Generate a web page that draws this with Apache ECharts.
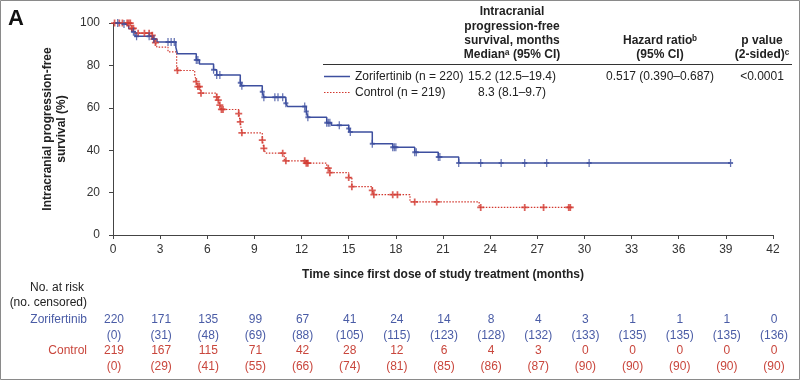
<!DOCTYPE html>
<html><head><meta charset="utf-8">
<script src="https://cdn.jsdelivr.net/npm/echarts@6/dist/echarts.min.js"></script>
<style>html,body{margin:0;padding:0;background:#fff}#c{width:800px;height:380px}</style>
</head><body><div id="c"></div>
<script>
// ---------- data ----------
const xTicks = [0,3,6,9,12,15,18,21,24,27,30,33,36,39,42];
const yTicks = [0,20,40,60,80,100];
// Kaplan-Meier steps: [time (months), survival % after the event]
const zoriSteps = [[0,100],[0.4,99.5],[0.8,98.6],[1.0,97.3],[1.2,95.9],[1.4,93.8],[2.5,92.4],[2.8,91.0],
  [4.0,88.5],[4.1,85.5],[5.3,82.6],[5.5,80.7],[6.4,78.0],[6.6,75.5],[8.1,71.8],[8.2,70.4],
  [9.5,67.6],[9.6,65.0],[11.0,62.2],[11.1,60.6],[12.3,58.2],[12.4,55.6],[13.6,52.9],[13.9,51.8],
  [15.0,50.2],[15.1,48.6],[16.5,43.1],[17.8,41.4],[19.2,39.0],[20.7,36.8],[22.0,34.0],[39.3,34.0]];
const ctrlSteps = [[0,100],[1.2,97.5],[1.4,95.2],[2.5,94.2],[2.6,92.4],[2.7,90.8],[2.8,88.6],[3.5,86.4],
  [4.05,77.6],[5.2,75.5],[5.3,72.4],[5.4,70.0],[5.55,66.9],[6.6,65.1],[6.7,63.6],[6.8,61.3],[6.9,59.2],
  [8.0,57.3],[8.1,53.4],[8.15,50.3],[8.2,48.2],[9.5,44.8],[9.6,40.9],[9.7,38.6],[10.9,35.0],[12.3,33.9],
  [13.6,31.5],[13.8,29.4],[15.0,27.1],[15.2,22.8],[16.5,21.0],[16.6,19.0],[18.9,15.6],[23.3,13.0],[29.1,13.0]];
const zoriCensorTimes = [0.3,0.7,1.3,1.5,2.3,2.6,3.5,3.7,3.9,5.3,5.4,6.4,6.6,6.8,8.1,8.2,9.5,9.6,10.3,10.5,
  10.8,11.0,12.2,12.3,12.4,13.6,13.7,13.8,14.4,15.0,15.1,16.5,17.8,17.9,18.0,19.2,19.3,20.7,20.8,22.0,23.4,24.7,26.2,27.6,30.3,39.3];
const ctrlCensorTimes = [0.1,0.4,0.6,0.9,1.0,1.1,1.2,1.3,1.6,2.0,2.3,2.5,2.6,2.7,4.1,5.3,5.4,5.5,5.6,6.6,6.7,6.8,6.9,7.0,
  8.0,8.1,8.2,9.5,9.6,10.8,11.0,12.2,12.3,12.4,13.7,13.8,15.0,15.2,16.5,16.6,17.8,18.1,19.2,20.6,23.4,26.2,27.4,29.0,29.1];
const riskTimes = [0,3,6,9,12,15,18,21,24,27,30,33,36,39,42];
const zoriAtRisk = [220,171,135,99,67,41,24,14,8,4,3,1,1,1,0];
const zoriCensored = [0,31,48,69,88,105,115,123,128,132,133,135,135,135,136];
const ctrlAtRisk = [219,167,115,71,42,28,12,6,4,3,0,0,0,0,0];
const ctrlCensored = [0,29,41,55,66,74,81,85,86,87,90,90,90,90,90];

// ---------- style ----------
const BLUE = '#3d4f9f', RED = '#d2382f';
const BLUE_T = '#4a5ca6', RED_T = '#c9463c';
const FONT = 'Liberation Sans, Arial, sans-serif';
const PLUS = 'path://M3,0H5V3H8V5H5V8H3V5H0V3H3Z';

function valAt(steps, t) {
  let v = steps[0][1];
  for (const [x, y] of steps) { if (x <= t) v = y; else break; }
  return v;
}
const zoriCensor = zoriCensorTimes.map(t => [t, valAt(zoriSteps, t)]);
const ctrlCensor = ctrlCensorTimes.map(t => [t, valAt(ctrlSteps, t)]);

const chart = echarts.init(document.getElementById('c'), null, {renderer: 'canvas'});
const option = {
  animation: false,
  backgroundColor: '#fff',
  textStyle: {fontFamily: FONT},
  grid: {left: 113, right: 27, top: 23, bottom: 145},
  xAxis: {
    type: 'value', min: 0, max: 42, interval: 3, offset: 2,
    axisLine: {lineStyle: {color: '#444', width: 1}},
    axisTick: {length: 4, lineStyle: {color: '#444'}},
    axisLabel: {color: '#333', fontSize: 12, margin: 7, fontFamily: FONT},
    splitLine: {show: false},
    name: 'Time since first dose of study treatment (months)',
    nameLocation: 'middle', nameGap: 32,
    nameTextStyle: {fontWeight: 'bold', fontSize: 12, color: '#222', fontFamily: FONT}
  },
  yAxis: {
    type: 'value', min: 0, max: 100, interval: 20, offset: 3,
    axisLine: {show: true, lineStyle: {color: '#444', width: 1}},
    axisTick: {show: true, length: 4, lineStyle: {color: '#444'}},
    axisLabel: {color: '#333', fontSize: 12, margin: 10, fontFamily: FONT},
    splitLine: {show: false},
    name: 'Intracranial progression-free\nsurvival (%)',
    nameLocation: 'middle', nameGap: 38, nameRotate: 90,
    nameTextStyle: {fontWeight: 'bold', fontSize: 12, color: '#222', lineHeight: 14, fontFamily: FONT}
  },
  series: [
    {name: 'Control', type: 'line', step: 'end', data: ctrlSteps, showSymbol: false, symbol: 'none',
     lineStyle: {color: RED, width: 1.2, type: [1.5, 1.5]}, z: 2},
    {name: 'Zorifertinib', type: 'line', step: 'end', data: zoriSteps, showSymbol: false, symbol: 'none',
     lineStyle: {color: BLUE, width: 1.5}, z: 3},
    {name: 'Control censored', type: 'scatter', data: ctrlCensor, symbol: PLUS, symbolSize: 7,
     itemStyle: {color: RED}, z: 4},
    {name: 'Zorifertinib censored', type: 'scatter', data: zoriCensor, symbol: PLUS, symbolSize: [5, 8],
     itemStyle: {color: BLUE}, z: 5}
  ]
};
chart.setOption(option);

// ---------- annotations (header table, legend, risk table) ----------
function txt(x, y, s, o) {
  return {type: 'text', x: x, y: y, silent: true,
    style: Object.assign({text: s, fontSize: 12, fontFamily: FONT, fill: '#222',
      textAlign: 'left', textVerticalAlign: 'middle'}, o || {})};
}
const g = [];
g.push({type: 'rect', shape: {x: 0.5, y: 0.5, width: 799, height: 379}, style: {fill: 'none', stroke: '#8a8a8a', lineWidth: 1}, silent: true});
g.push(txt(8, 19, 'A', {fontSize: 22, fontWeight: 'bold', fill: '#111'}));
// header
const hb = {fontWeight: 'bold', textAlign: 'center'};
g.push(txt(512, 12, 'Intracranial', hb));
g.push(txt(512, 27, 'progression-free', hb));
g.push(txt(512, 41, 'survival, months', hb));
g.push(txt(512, 55, 'Medianᵃ (95% CI)', hb));
g.push(txt(660, 41, 'Hazard ratioᵇ', hb));
g.push(txt(660, 55, '(95% CI)', hb));
g.push(txt(762, 41, 'p value', hb));
g.push(txt(762, 55, '(2-sided)ᶜ', hb));
g.push({type: 'line', shape: {x1: 323, y1: 64.5, x2: 792, y2: 64.5}, style: {stroke: '#333', lineWidth: 1}, silent: true});
// legend rows
g.push({type: 'line', shape: {x1: 324, y1: 76.5, x2: 350, y2: 76.5}, style: {stroke: BLUE, lineWidth: 1.5}, silent: true});
g.push({type: 'line', shape: {x1: 324, y1: 92.5, x2: 350, y2: 92.5}, style: {stroke: RED, lineWidth: 1.2, lineDash: [1.5, 1.5]}, silent: true});
g.push(txt(355, 77, 'Zorifertinib (n = 220)'));
g.push(txt(355, 93, 'Control (n = 219)'));
g.push(txt(512, 77, '15.2 (12.5–19.4)', {textAlign: 'center'}));
g.push(txt(512, 93, '8.3 (8.1–9.7)', {textAlign: 'center'}));
g.push(txt(660, 77, '0.517 (0.390–0.687)', {textAlign: 'center'}));
g.push(txt(762, 77, '<0.0001', {textAlign: 'center'}));
// risk table
const rr = {textAlign: 'right'};
g.push(txt(84, 288, 'No. at risk', Object.assign({fill: '#222'}, rr)));
g.push(txt(87, 303, '(no. censored)', Object.assign({fill: '#222'}, rr)));
g.push(txt(87, 320, 'Zorifertinib', Object.assign({fill: BLUE_T}, rr)));
g.push(txt(87, 351, 'Control', Object.assign({fill: RED_T}, rr)));
riskTimes.forEach((t, i) => {
  const px = chart.convertToPixel({xAxisIndex: 0}, t) + 1;
  g.push(txt(px, 320, String(zoriAtRisk[i]), {textAlign: 'center', fill: BLUE_T}));
  g.push(txt(px, 336, '(' + zoriCensored[i] + ')', {textAlign: 'center', fill: BLUE_T}));
  g.push(txt(px, 351, String(ctrlAtRisk[i]), {textAlign: 'center', fill: RED_T}));
  g.push(txt(px, 367, '(' + ctrlCensored[i] + ')', {textAlign: 'center', fill: RED_T}));
});
chart.setOption({graphic: g});
</script>
</body></html>
